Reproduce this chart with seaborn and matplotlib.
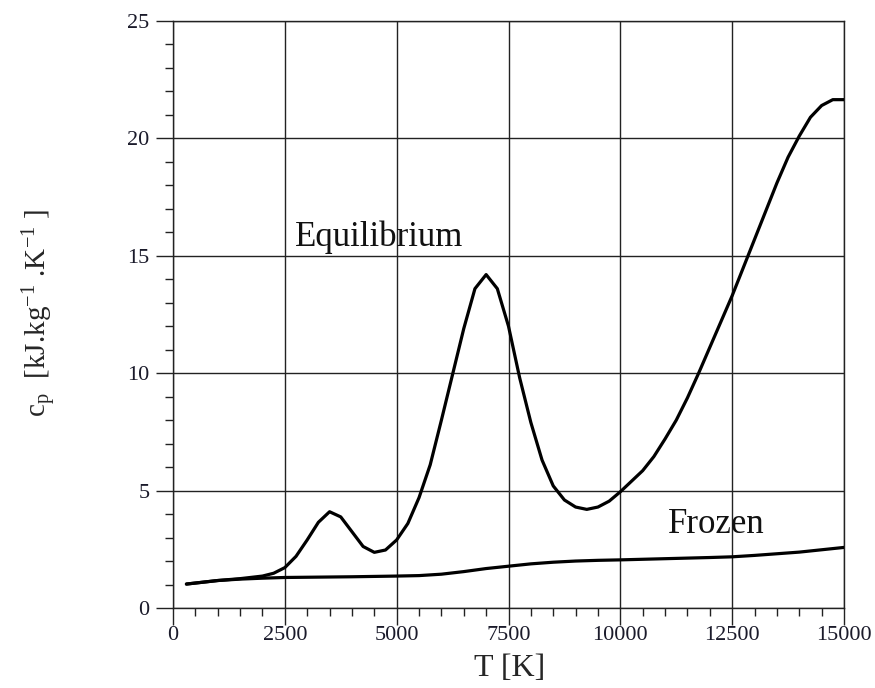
import matplotlib
matplotlib.use("Agg")
import matplotlib.pyplot as plt
import seaborn as sns
import pandas as pd
from matplotlib.ticker import MultipleLocator

# ---- data ----
eq_T = [300, 1000, 1500, 2000, 2250, 2500, 2750, 3000, 3250, 3500, 3750, 4000,
        4250, 4500, 4750, 5000, 5250, 5500, 5750, 6000, 6250, 6500, 6750, 7000,
        7250, 7500, 7750, 8000, 8250, 8500, 8750, 9000, 9250, 9500, 9750, 10000,
        10250, 10500, 10750, 11000, 11250, 11500, 11750, 12000, 12250, 12500,
        12750, 13000, 13250, 13500, 13750, 14000, 14250, 14500, 14750, 15000]
eq_cp = [1.02, 1.17, 1.25, 1.36, 1.48, 1.72, 2.2, 2.9, 3.65, 4.1, 3.88, 3.25,
         2.62, 2.37, 2.47, 2.9, 3.6, 4.7, 6.1, 8.0, 9.95, 11.9, 13.6, 14.2,
         13.6, 12.0, 9.8, 7.9, 6.3, 5.2, 4.6, 4.3, 4.2, 4.3, 4.55, 4.95,
         5.4, 5.85, 6.45, 7.2, 8.0, 8.95, 10.0, 11.1, 12.2, 13.3,
         14.5, 15.7, 16.9, 18.1, 19.2, 20.1, 20.9, 21.4, 21.65, 21.65]

fr_T = [300, 1000, 1500, 2000, 2500, 3000, 4000, 5000, 5500, 6000, 6500, 7000,
        7500, 8000, 8500, 9000, 9500, 10000, 11000, 12000, 12500, 13000, 14000, 15000]
fr_cp = [1.02, 1.17, 1.23, 1.27, 1.30, 1.31, 1.33, 1.36, 1.38, 1.44, 1.55, 1.68,
         1.78, 1.88, 1.95, 2.00, 2.03, 2.05, 2.10, 2.15, 2.18, 2.24, 2.38, 2.58]

x_ticks = [0, 2500, 5000, 7500, 10000, 12500, 15000]
y_ticks = [0, 5, 10, 15, 20, 25]

sns.set_style("ticks")
plt.rcParams['font.family'] = ['Liberation Serif', 'DejaVu Serif']
plt.rcParams['mathtext.fontset'] = 'custom'
plt.rcParams['mathtext.rm'] = 'Liberation Serif'
plt.rcParams['mathtext.it'] = 'Liberation Serif:italic'

fig = plt.figure(figsize=(8.75, 6.88), dpi=100)
ax = fig.add_axes([173/875, 1-608/688, 671/875, 587/688])

df_eq = pd.DataFrame({"T": eq_T, "cp": eq_cp})
df_fr = pd.DataFrame({"T": fr_T, "cp": fr_cp})
sns.lineplot(data=df_eq, x="T", y="cp", ax=ax, color="black", lw=2.3, zorder=3)
sns.lineplot(data=df_fr, x="T", y="cp", ax=ax, color="black", lw=2.3, zorder=3)

ax.set_xlim(0, 15000)
ax.set_ylim(0, 25)
ax.set_xticks(x_ticks)
ax.set_yticks(y_ticks)
ax.xaxis.set_minor_locator(MultipleLocator(500))
ax.yaxis.set_minor_locator(MultipleLocator(1))
ax.tick_params(axis='both', which='major', direction='out', length=12, width=1.0,
               labelsize=16, color='#222222', labelcolor='#1a1a2a')
ax.tick_params(axis='x', which='major', pad=1)
ax.tick_params(axis='y', which='major', pad=5)
ax.tick_params(axis='both', which='minor', direction='out', length=6, width=1.0,
               color='#222222')

ax.grid(True, which='major', color='#222222', linewidth=1.0)
ax.set_axisbelow(True)
for s in ax.spines.values():
    s.set_visible(True)
    s.set_color('#222222')
    s.set_linewidth(1.0)

ax.set_xlabel("T [K]", fontsize=23)
ax.xaxis.label.set_va('center')
ax.xaxis.set_label_coords(0.502, (608-668)/587)
ax.set_ylabel(r"c$_{\mathrm{p}}$  [kJ.kg$^{\mathrm{-1}}$ .K$^{\mathrm{-1}}$ ]", fontsize=21)
ax.yaxis.label.set_va('center')
ax.yaxis.set_label_coords((40-173)/671, (608-313)/587)

ax.text(2727, 15.42, "Equilibrium", fontsize=25, ha='left', va='baseline', color='#111111')
ax.text(11066, 3.19, "Frozen", fontsize=25, ha='left', va='baseline', color='#111111')

fig.savefig("out.png", dpi=100)
